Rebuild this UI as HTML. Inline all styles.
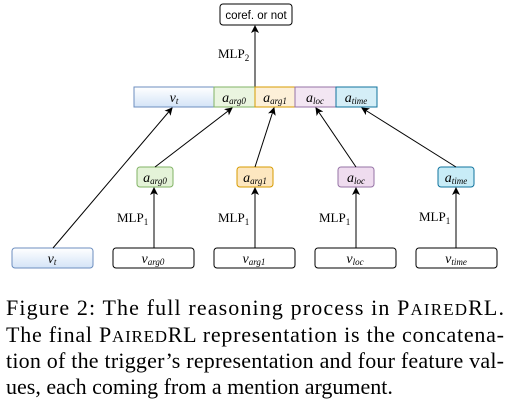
<html><body style="margin:0;background:#fff">
<svg width="515" height="404" xmlns="http://www.w3.org/2000/svg" style="font-family:'Liberation Serif',serif">
<defs>
<marker id="a" markerWidth="8" markerHeight="8" refX="7" refY="4" orient="auto" markerUnits="userSpaceOnUse"><path d="M0,0 L8,4 L0,8 L2,4 z" fill="#000"/></marker>
<linearGradient id="b" x1="0" y1="0" x2="0" y2="1"><stop offset="0" stop-color="#fff"/><stop offset="1" stop-color="#d4e4f7"/></linearGradient>
</defs>
<rect x="220" y="4" width="72" height="21" rx="3" fill="#fff" stroke="#000"/>
<text x="256" y="19" style="font-family:'Liberation Sans',sans-serif" font-size="11.5" text-anchor="middle">coref. or not</text>
<line x1="255" y1="87" x2="255" y2="26" stroke="#000" marker-end="url(#a)"/>
<text x="218" y="58" font-size="13">MLP<tspan font-size="9" dy="3">2</tspan></text>
<rect x="134" y="87" width="80" height="20" fill="url(#b)" stroke="#6c8ebf"/>
<rect x="214" y="87" width="41" height="20" fill="#eaf5e0" stroke="#82b366"/>
<rect x="255" y="87" width="40" height="20" fill="#fdf0d8" stroke="#d79b00"/>
<rect x="295" y="87" width="41" height="20" fill="#f3e6f3" stroke="#9673a6"/>
<rect x="336" y="87" width="41" height="20" fill="#d4eef7" stroke="#10739e"/>
<g font-style="italic" font-size="14" text-anchor="middle">
<text x="174" y="102">v<tspan font-size="9" dy="2">t</tspan></text>
<text x="234" y="102">a<tspan font-size="9" dy="2">arg0</tspan></text>
<text x="275" y="102">a<tspan font-size="9" dy="2">arg1</tspan></text>
<text x="315" y="102">a<tspan font-size="9" dy="2">loc</tspan></text>
<text x="356" y="102">a<tspan font-size="9" dy="2">time</tspan></text>
</g>
<rect x="137" y="167" width="36" height="20" rx="3" fill="#e4f3d8" stroke="#82b366"/>
<rect x="237" y="167" width="36" height="20" rx="3" fill="#fde7c0" stroke="#d79b00"/>
<rect x="338" y="167" width="36" height="20" rx="3" fill="#efdcef" stroke="#9673a6"/>
<rect x="438" y="167" width="36" height="20" rx="3" fill="#c8ecf7" stroke="#10739e"/>
<g font-style="italic" font-size="14" text-anchor="middle">
<text x="155" y="182">a<tspan font-size="9" dy="2">arg0</tspan></text>
<text x="255" y="182">a<tspan font-size="9" dy="2">arg1</tspan></text>
<text x="356" y="182">a<tspan font-size="9" dy="2">loc</tspan></text>
<text x="456" y="182">a<tspan font-size="9" dy="2">time</tspan></text>
</g>
<rect x="12" y="248" width="81" height="20" rx="3" fill="url(#b)" stroke="#6c8ebf"/>
<rect x="113" y="248" width="81" height="20" rx="3" fill="#fff" stroke="#000"/>
<rect x="214" y="248" width="81" height="20" rx="3" fill="#fff" stroke="#000"/>
<rect x="315" y="248" width="81" height="20" rx="3" fill="#fff" stroke="#000"/>
<rect x="416" y="248" width="81" height="20" rx="3" fill="#fff" stroke="#000"/>
<g font-style="italic" font-size="14" text-anchor="middle">
<text x="52" y="263">v<tspan font-size="9" dy="2">t</tspan></text>
<text x="153" y="263">v<tspan font-size="9" dy="2">arg0</tspan></text>
<text x="254" y="263">v<tspan font-size="9" dy="2">arg1</tspan></text>
<text x="355" y="263">v<tspan font-size="9" dy="2">loc</tspan></text>
<text x="456" y="263">v<tspan font-size="9" dy="2">time</tspan></text>
</g>
<g stroke="#000" marker-end="url(#a)">
<line x1="53" y1="248" x2="172" y2="108"/>
<line x1="155" y1="167" x2="232" y2="108"/>
<line x1="255" y1="167" x2="274" y2="108"/>
<line x1="356" y1="167" x2="316" y2="108"/>
<line x1="456" y1="167" x2="362" y2="108"/>
<line x1="154" y1="248" x2="154" y2="188"/>
<line x1="255" y1="248" x2="255" y2="188"/>
<line x1="356" y1="248" x2="356" y2="188"/>
<line x1="456" y1="248" x2="456" y2="188"/>
</g>
<g font-size="13">
<text x="117" y="222">MLP<tspan font-size="9" dy="3">1</tspan></text>
<text x="218" y="222">MLP<tspan font-size="9" dy="3">1</tspan></text>
<text x="319" y="222">MLP<tspan font-size="9" dy="3">1</tspan></text>
<text x="419" y="221">MLP<tspan font-size="9" dy="3">1</tspan></text>
</g>
<g font-size="22" fill="#000">
<text x="6" y="315" textLength="498" lengthAdjust="spacing">Figure 2:  The full reasoning process in P<tspan font-size="17">AIRED</tspan>RL.</text>
<text x="6" y="342" textLength="498" lengthAdjust="spacing">The final P<tspan font-size="17">AIRED</tspan>RL  representation is the concatena-</text>
<text x="6" y="368" textLength="498" lengthAdjust="spacing">tion of the trigger’s representation and four feature val-</text>
<text x="6" y="394">ues, each coming from a mention argument.</text>
</g>
</svg>
</body></html>
